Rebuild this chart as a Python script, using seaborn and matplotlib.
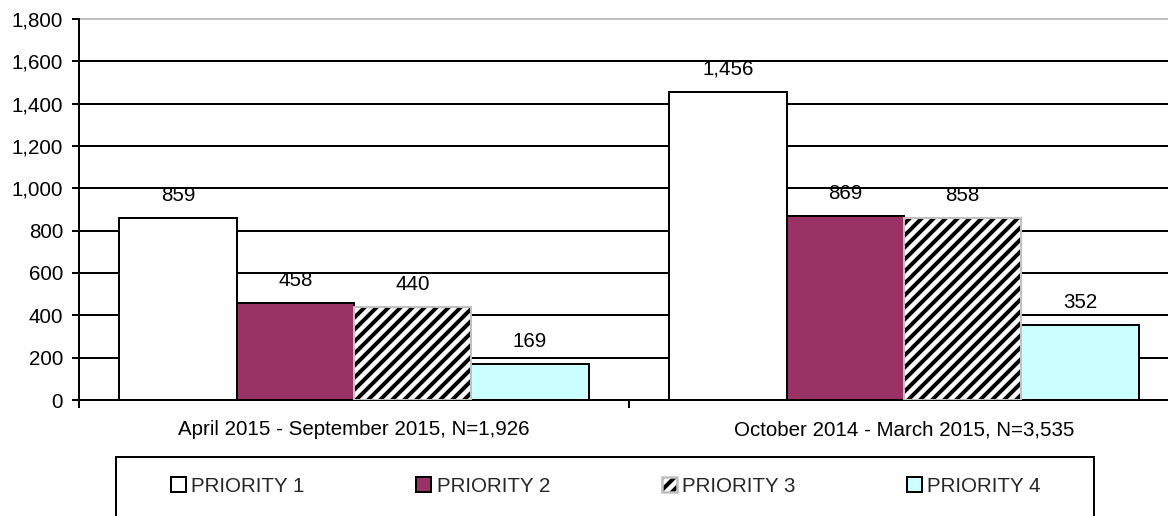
import matplotlib
matplotlib.use("Agg")
import matplotlib.pyplot as plt
from matplotlib.patches import Rectangle, Patch
from matplotlib.legend_handler import HandlerTuple
from matplotlib.ticker import FuncFormatter, FixedLocator
import seaborn as sns
import pandas as pd

periods = ["April 2015 - September 2015, N=1,926",
           "October 2014 - March 2015, N=3,535"]
priorities = ["PRIORITY 1", "PRIORITY 2", "PRIORITY 3", "PRIORITY 4"]
priority_1 = [859, 1456]
priority_2 = [458, 869]
priority_3 = [440, 858]
priority_4 = [169, 352]
y_ticks = [0, 200, 400, 600, 800, 1000, 1200, 1400, 1600, 1800]

colors = ["#ffffff", "#993366", "#ffffff", "#ccffff"]

sns.set_theme(style="white")
plt.rcParams["font.family"] = ["Liberation Sans", "DejaVu Sans"]
plt.rcParams["hatch.linewidth"] = 4.0
FS = 20.5

rows = []
for pr, vals in zip(priorities, [priority_1, priority_2, priority_3, priority_4]):
    for per, v in zip(periods, vals):
        rows.append({"period": per, "priority": pr, "count": v})
df = pd.DataFrame(rows)

W, H = 1168, 516
fig = plt.figure(figsize=(W / 72, H / 72), dpi=72)
ax = fig.add_axes([79 / W, 1 - 400 / H, 1100 / W, 381 / H])

sns.barplot(data=df, x="period", y="count", hue="priority", order=periods,
            hue_order=priorities, palette=dict(zip(priorities, colors)),
            width=0.853, gap=0, saturation=1, edgecolor="black", linewidth=2,
            legend=False, ax=ax, zorder=3)

# hatched priority 3 bars with grey outline
for bar in ax.containers[2]:
    bar.set_hatch("//")
    bar.set_edgecolor("black")
    bar.set_linewidth(0)
    ax.add_patch(Rectangle((bar.get_x(), bar.get_y()), bar.get_width(), bar.get_height(),
                           fill=False, edgecolor="#c0c0c0", linewidth=2, zorder=3.5))

# value labels
for cont in ax.containers:
    ax.bar_label(cont, labels=[f"{v:,.0f}" for v in cont.datavalues],
                 padding=13, fontsize=FS, color="black", zorder=5)

ax.set_xlim(-0.5, 1.5)
ax.set_ylim(0, 1800)
ax.set_yticks(y_ticks)
ax.yaxis.set_major_formatter(FuncFormatter(lambda v, p: f"{v:,.0f}"))
ax.set_xlabel("")
ax.set_ylabel("")

ax.grid(axis="y", color="black", linewidth=2)
ax.grid(axis="x", visible=False)
ax.set_axisbelow(True)
ax.axhline(1800, color="#c0c0c0", linewidth=2, zorder=2, clip_on=False)

for s in ["top", "right"]:
    ax.spines[s].set_visible(False)
for s in ["left", "bottom"]:
    ax.spines[s].set_color("black")
    ax.spines[s].set_linewidth(2)

ax.tick_params(axis="y", which="major", left=True, length=7, width=2, color="black",
               pad=9, labelsize=FS, labelcolor="black")
ax.tick_params(axis="x", which="major", bottom=True, length=0, pad=20,
               labelsize=FS, labelcolor="black")
ax.xaxis.set_minor_locator(FixedLocator([-0.5, 0.5, 1.5]))
ax.tick_params(axis="x", which="minor", bottom=True, length=8, width=2, color="black",
               direction="out")

# legend
handles = [
    Patch(facecolor=colors[0], edgecolor="black", linewidth=2),
    Patch(facecolor=colors[1], edgecolor="black", linewidth=2),
    (Patch(facecolor="white", edgecolor="black", linewidth=0, hatch="//"),
     Patch(fill=False, edgecolor="#c0c0c0", linewidth=2.5)),
    Patch(facecolor=colors[3], edgecolor="black", linewidth=2),
]
fig.legend(handles, priorities, loc="center", bbox_to_anchor=(606 / W, 1 - 486 / H),
           ncol=4, frameon=False, fontsize=FS, handlelength=0.73, handleheight=0.73,
           handletextpad=0.26, columnspacing=5.45,
           handler_map={tuple: HandlerTuple(ndivide=1, pad=0)})
fig.patches.append(Rectangle((116 / W, -0.05), 978 / W, (516 - 457) / H + 0.05,
                             transform=fig.transFigure, fill=False,
                             edgecolor="black", linewidth=2))

fig.savefig("out.png", dpi=72)
